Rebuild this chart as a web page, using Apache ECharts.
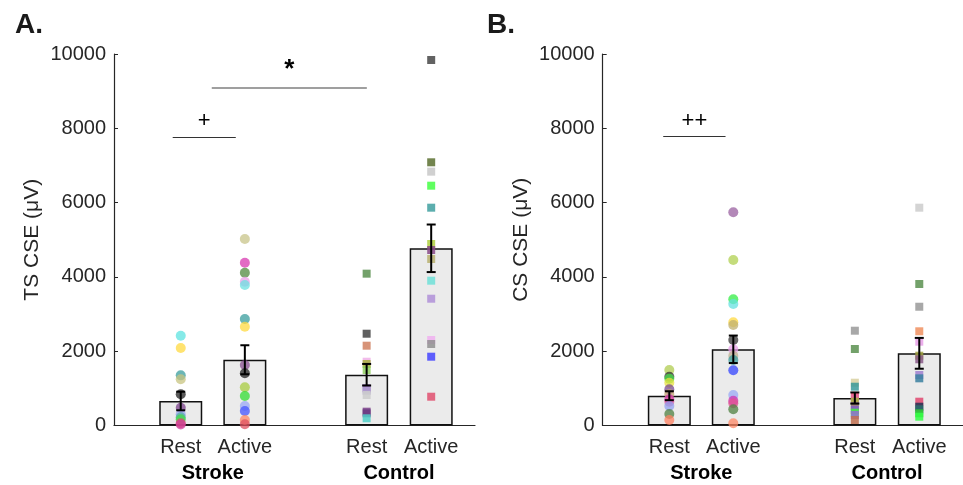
<!DOCTYPE html>
<html>
<head>
<meta charset="utf-8">
<script src="https://cdn.jsdelivr.net/npm/echarts@6/dist/echarts.min.js"></script>
<style>
html, body { margin: 0; padding: 0; background: #fff; }
#chart { width: 963px; height: 485px; }
</style>
</head>
<body>
<div id="chart"></div>
<script>
// bar positions (x axis units) and labels
var xPos = [1.039, 2.037, 3.933, 4.938];
var xLabels = ['Rest', 'Active', 'Rest', 'Active'];
var groupPos = [1.538, 4.436];
var groupLabels = ['Stroke', 'Control'];

// panel A: TS CSE
var tsMeans = [660, 1770, 1367, 4770];
var tsSem = [250, 390, 290, 640];
var tsStrokeRest = [2417, 2086, 1350, 1243, 840, 480, 300, 220, 167, 60, 30];
var tsStrokeActive = [5020, 4383, 4113, 3871, 3782, 2867, 2660, 1629, 1405, 1028, 794, 525, 390, 148, 32];
var tsControlRest = [4087, 2471, 2148, 1717, 1655, 1494, 1001, 937, 821, 372, 328, 194];
var tsControlActive = [9838, 7085, 6833, 6455, 5863, 4886, 4724, 4482, 3898, 3413, 2301, 2194, 1852, 775];

// panel B: CS CSE
var csMeans = [802, 2051, 740, 1943];
var csSem = [120, 370, 150, 415];
var csStrokeRest = [1494, 1314, 1260, 1152, 974, 848, 705, 641, 525, 310, 148];
var csStrokeActive = [5739, 4455, 3397, 3271, 2778, 2705, 2301, 2051, 1879, 1763, 1486, 821, 668, 598, 436, 59];
var csControlRest = [2552, 2059, 1152, 1044, 794, 732, 641, 525, 417, 345, 283, 148];
var csControlActive = [5863, 3809, 3197, 2536, 2256, 1879, 1782, 1359, 1270, 641, 506, 436, 328, 237];

// point colours
var cTsSR = ['#5de3e0', '#ffd940', '#3a9e9e', '#c8c480', '#222222', '#7a3f8a', '#99a8f0', '#55aaaa', '#44dd44', '#e05060', '#d040a0'];
var cTsSA = ['#c8c48a', '#d838b0', '#4f8a3f', '#e8a0e8', '#6ee0e0', '#3a9e9e', '#ffd940', '#8a4f90', '#222222', '#a8cc40', '#33dd33', '#9aa8f5', '#4455ff', '#ff8866', '#e05060'];
var cTsCR = ['#5a9050', '#444444', '#d08060', '#f0b0e8', '#a8b040', '#90d060', '#9060c0', '#b0a0d0', '#cccccc', '#7a3f8a', '#6a3a80', '#50d0c8'];
var cTsCA = ['#474747', '#5a7030', '#c8c8c8', '#44ff44', '#40a0a0', '#b0d040', '#8a4a8a', '#b8b070', '#70e0d8', '#b090d8', '#f0b0f0', '#909090', '#4444ff', '#e05070'];
var cCsSR = ['#b0cc50', '#333333', '#44dd44', '#e8e040', '#7a4a90', '#c0a070', '#d030b0', '#e060a0', '#90a0f0', '#4f8040', '#ff8060'];
var cCsSA = ['#9a60a0', '#b0d050', '#33ee44', '#66e0e0', '#ffd940', '#c0b070', '#333333', '#e8a0e8', '#c0b090', '#3a9e9e', '#3344ff', '#99aaf5', '#d030b0', '#e05090', '#4f8040', '#ff8866'];
var cCsCR = ['#999999', '#5a9050', '#d8d0a0', '#3a9a9a', '#e04060', '#e870a0', '#a0b040', '#907080', '#8060c0', '#44ee44', '#9070d0', '#c07050'];
var cCsCA = ['#cccccc', '#5a9050', '#999999', '#f09060', '#e8a0e8', '#a0a040', '#8a5a8a', '#a080d0', '#3a80a0', '#e04870', '#223355', '#2a6a6a', '#33cc33', '#33ff44'];

var FONT = "'Liberation Sans', Helvetica, Arial, sans-serif";
var TXT = '#262626';

function points(k, vals, cols) {
	return vals.map(function(v, i) {
		return { value: [xPos[k], v], itemStyle: { color: cols[i] } };
	});
}

function nearestLabel(v, pos, labels) {
	var best = 0;
	for (var i = 1; i < pos.length; i++) {
		if (Math.abs(pos[i] - v) < Math.abs(pos[best] - v)) best = i;
	}
	return labels[best];
}

function xAxes(g) {
	return [{
		gridIndex : g,
		type : 'value',
		min : 0,
		max : 5.62,
		position : 'bottom',
		axisLine : { show : true, lineStyle : { color : TXT, width : 1.2 } },
		axisTick : { show : true, inside : true, length : 4, customValues : xPos, lineStyle : { color : TXT } },
		axisLabel : {
			customValues : xPos,
			margin : 12,
			color : TXT,
			fontSize : 20,
			fontFamily : FONT,
			formatter : function(v) { return nearestLabel(v, xPos, xLabels); }
		},
		splitLine : { show : false }
	}, {
		gridIndex : g,
		type : 'value',
		min : 0,
		max : 5.62,
		position : 'bottom',
		axisLine : { show : false },
		axisTick : { show : false },
		axisLabel : {
			customValues : groupPos,
			margin : 38,
			color : '#000',
			fontSize : 20,
			fontWeight : 'bold',
			fontFamily : FONT,
			formatter : function(v) { return nearestLabel(v, groupPos, groupLabels); }
		},
		splitLine : { show : false }
	}];
}

function yAxis(g, name) {
	return {
		gridIndex : g,
		type : 'value',
		min : 0,
		max : 10000,
		interval : 2000,
		name : name,
		nameLocation : 'middle',
		nameGap : 71,
		nameTextStyle : { color : TXT, fontSize : 21, fontFamily : FONT },
		axisLine : { show : true, lineStyle : { color : TXT, width : 1.2 } },
		axisTick : { show : true, inside : true, length : 4, lineStyle : { color : TXT } },
		axisLabel : { color : TXT, fontSize : 20, fontFamily : FONT, margin : 8,
			formatter : function(v) { return String(v); } },
		splitLine : { show : false }
	};
}

function sigLine(x1, x2, y, text, color, width, size) {
	return [{
		coord : [x1, y],
		lineStyle : { color : color, width : width, type : 'solid' },
		label : { show : true, formatter : text, position : 'middle', distance : 5, color : '#000',
			fontSize : size, fontWeight : size > 22 ? 'bold' : 'normal', fontFamily : FONT }
	}, { coord : [x2, y] }];
}

function panelSeries(g, means, sem, groups, colors, sig) {
	var xi = g * 2, yi = g;
	var s = [];
	s.push({
		type : 'bar',
		xAxisIndex : xi,
		yAxisIndex : yi,
		barWidth : 43,
		data : means.map(function(m, k) { return [xPos[k], m]; }),
		itemStyle : { color : '#ebebeb', borderColor : '#111', borderWidth : 1.5 },
		z : 1,
		silent : true,
		markLine : {
			symbol : 'none',
			silent : true,
			data : sig
		}
	});
	for (var k = 0; k < 4; k++) {
		var ctrl = k >= 2;
		s.push({
			type : 'scatter',
			xAxisIndex : xi,
			yAxisIndex : yi,
			symbol : ctrl ? 'rect' : 'circle',
			symbolSize : ctrl ? 8 : 10,
			itemStyle : { opacity : ctrl ? 0.85 : 0.75 },
			data : points(k, groups[k], colors[k]),
			z : 3
		});
	}
	s.push({
		type : 'custom',
		xAxisIndex : xi,
		yAxisIndex : yi,
		z : 4,
		data : means.map(function(m, k) { return [xPos[k], m, sem[k]]; }),
		renderItem : function(params, api) {
			var x = api.value(0), m = api.value(1), e = api.value(2);
			var top = api.coord([x, m + e]);
			var bot = api.coord([x, m - e]);
			var c = 4.5;
			var st = { stroke : '#000', lineWidth : 2 };
			return {
				type : 'group',
				children : [
					{ type : 'line', shape : { x1 : top[0], y1 : top[1], x2 : bot[0], y2 : bot[1] }, style : st },
					{ type : 'line', shape : { x1 : top[0] - c, y1 : top[1], x2 : top[0] + c, y2 : top[1] }, style : st },
					{ type : 'line', shape : { x1 : bot[0] - c, y1 : bot[1], x2 : bot[0] + c, y2 : bot[1] }, style : st }
				]
			};
		}
	});
	return s;
}

var myChart = echarts.init(document.getElementById('chart'));
var option = {
	animation : false,
	textStyle : { fontFamily : FONT },
	title : [
		{ text : 'A.', left : 10, top : 6, textStyle : { fontSize : 28, fontWeight : 'bold', color : '#1a1a1a', fontFamily : FONT } },
		{ text : 'B.', left : 482, top : 6, textStyle : { fontSize : 28, fontWeight : 'bold', color : '#1a1a1a', fontFamily : FONT } }
	],
	grid : [
		{ left : 114, top : 54, width : 361, height : 371.5 },
		{ left : 602.7, top : 54, width : 361, height : 371.5 }
	],
	xAxis : xAxes(0).concat(xAxes(1)),
	yAxis : [yAxis(0, 'TS CSE (μV)'), yAxis(1, 'CS CSE (μV)')],
	series : panelSeries(0, tsMeans, tsSem,
			[tsStrokeRest, tsStrokeActive, tsControlRest, tsControlActive],
			[cTsSR, cTsSA, cTsCR, cTsCA],
			[sigLine(0.914, 1.896, 7758, '+', '#333', 1.2, 22),
			 sigLine(1.522, 3.936, 9093, '*', '#7f7f7f', 1.5, 26)])
		.concat(panelSeries(1, csMeans, csSem,
			[csStrokeRest, csStrokeActive, csControlRest, csControlActive],
			[cCsSR, cCsSA, cCsCR, cCsCA],
			[sigLine(0.944, 1.916, 7774, '++', '#333', 1.2, 22)]))
};
myChart.setOption(option);
</script>
</body>
</html>
